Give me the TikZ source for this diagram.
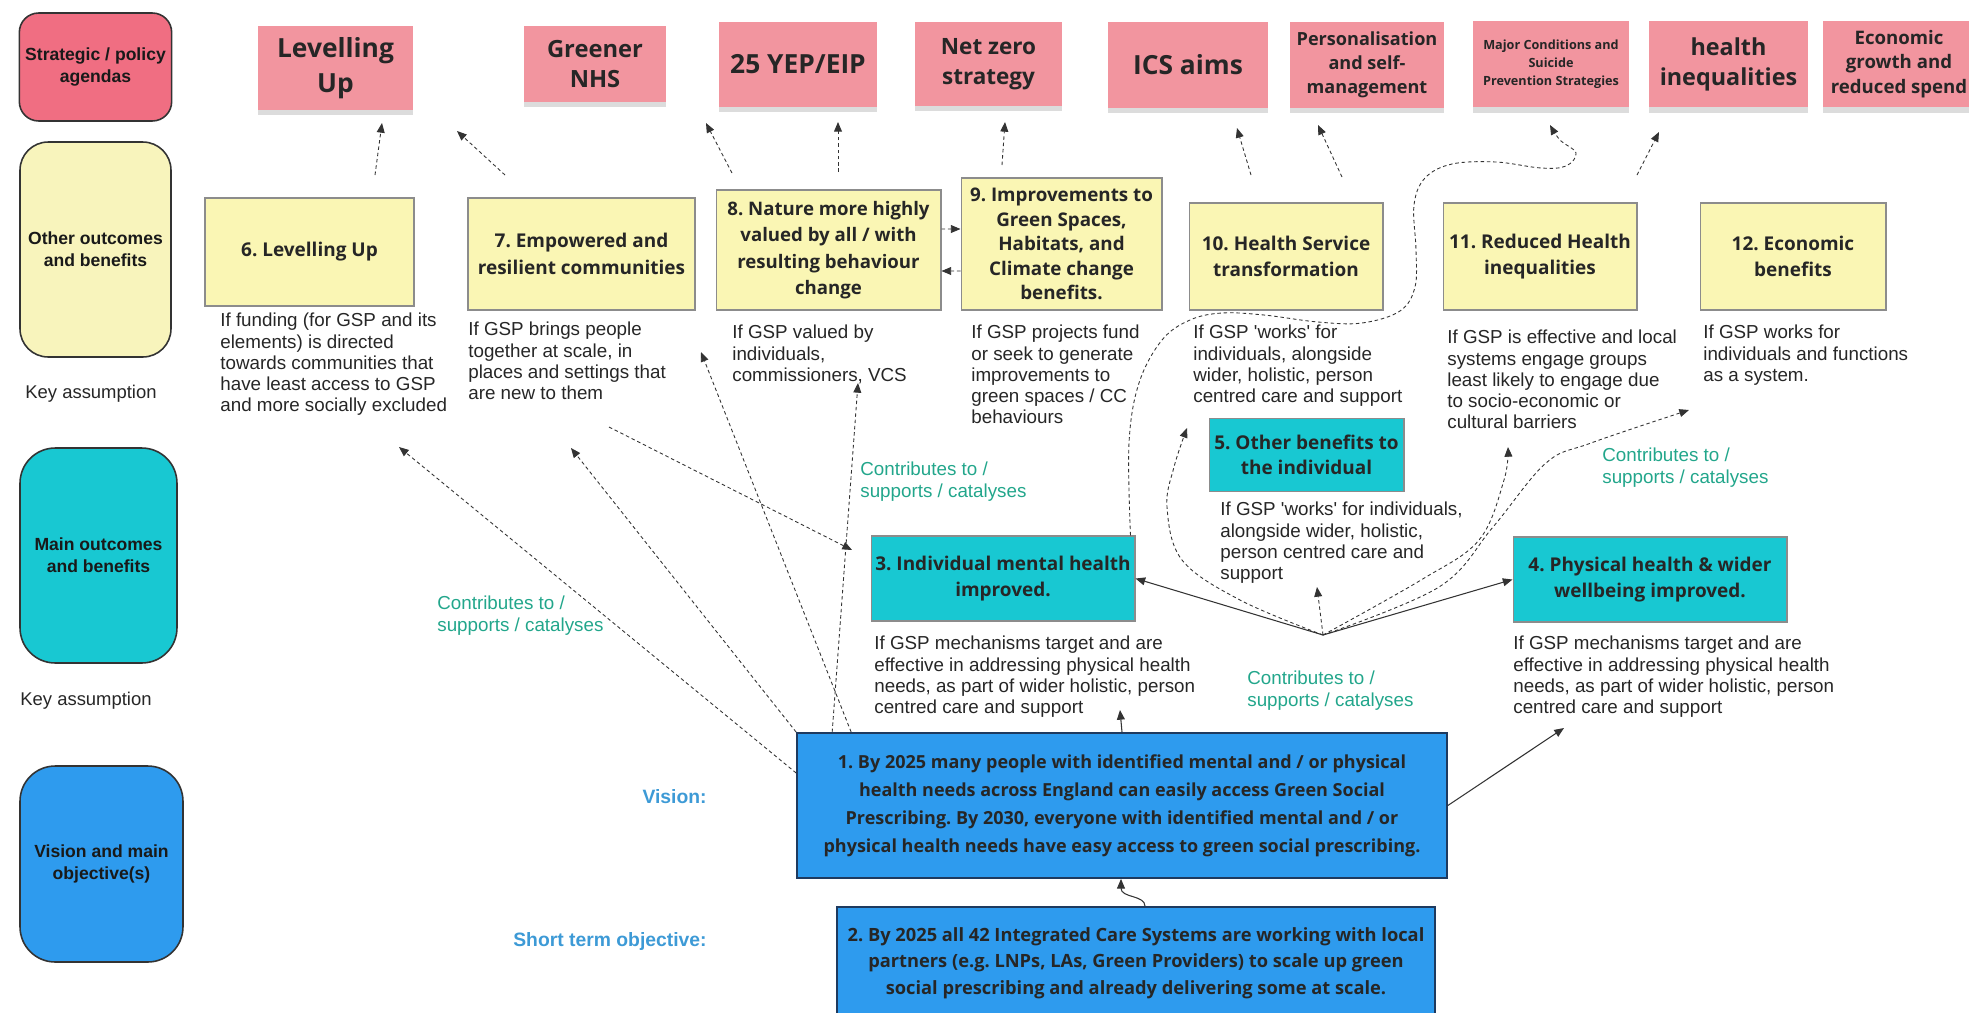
\documentclass[tikz,border=0pt]{standalone}
\usepackage{fontspec}
\setmainfont{Liberation Sans}
\newfontfamily\osans{Open Sans}
\usepackage{xcolor}
\usepackage{tikz}
\usetikzlibrary{arrows.meta, shadows}

\definecolor{policyred}{HTML}{F06E82}
\definecolor{stickypink}{HTML}{F2959F}
\definecolor{paleyellow}{HTML}{F8F4BC}
\definecolor{boxyellow}{HTML}{FAF6B4}
\definecolor{cyanbox}{HTML}{18C8D2}
\definecolor{bluebox}{HTML}{2E9BEE}
\definecolor{navyline}{HTML}{1E3A5F}
\definecolor{tealtext}{HTML}{22A68B}
\definecolor{visionblue}{HTML}{3D9AD6}

\newcommand\obf[2]{\osans\bfseries\fontsize{#1}{#2}\selectfont}
\frenchspacing

\begin{document}
\begin{tikzpicture}[x=0.02cm, y=-0.02cm,
  sidebox/.style={draw=black!80, line width=0.9pt, align=center, text=black!90,
    font=\bfseries\fontsize{10}{12.5}\selectfont},
  keylabel/.style={font=\fontsize{10.5}{12}\selectfont, text=black!85},
  sticky/.style={fill=stickypink, align=center, text=black!85, inner sep=1pt,
    drop shadow={shadow xshift=0pt, shadow yshift=-3pt, opacity=0.28}},
  outbox/.style={draw=black!45, line width=0.6pt, fill=boxyellow, align=center,
    text=black!85, font=\obf{10.8}{15}},
  mainbox/.style={draw=black!45, line width=0.6pt, fill=cyanbox, align=center,
    text=black!85, inner xsep=1pt, font=\obf{10.8}{14.5}},
  visbox/.style={draw=navyline, line width=1pt, fill=bluebox, align=center,
    text=black!85, font=\obf{10.25}{16}},
  assume/.style={anchor=north west, inner sep=0pt, align=left, text=black!85,
    font=\fontsize{10.7}{12}\selectfont},
  contrib/.style={anchor=north west, inner sep=0pt, align=left, text=tealtext,
    font=\fontsize{10.7}{12}\selectfont},
  dasharrow/.style={draw=black!80, line width=0.5pt, dash pattern=on 2pt off 1.6pt,
    -{Triangle[length=5.5pt,width=4.5pt]}},
  solidarrow/.style={draw=black!80, line width=0.6pt,
    -{Triangle[length=5.5pt,width=4.5pt]}}
]

    \useasboundingbox (0,0) rectangle (1969,1012);

    % Row headings on the left
    \node[sidebox, fill=policyred, minimum width=3.02cm, minimum height=2.16cm, rounded corners=11pt] (lpolicy) at (95.5,67) {Strategic / policy\\agendas};
    \node[sidebox, fill=paleyellow, minimum width=3.02cm, minimum height=4.3cm, rounded corners=16pt] (lother) at (95.5,249.5) {Other outcomes\\and benefits};
    \node[keylabel] (lkeyone) at (91,394) {Key assumption};
    \node[sidebox, fill=cyanbox, minimum width=3.14cm, minimum height=4.3cm, rounded corners=20pt] (lmain) at (98.5,555.5) {Main outcomes\\and benefits};
    \node[keylabel] (lkeytwo) at (86,701) {Key assumption};
    \node[sidebox, fill=bluebox, minimum width=3.26cm, minimum height=3.92cm, rounded corners=20pt] (lvision) at (101.5,864) {Vision and main\\objective(s)};

    % Strategic / policy agendas (sticky notes)
    \node[sticky, minimum width=3.1cm, minimum height=1.68cm, font=\obf{15}{20}] (sLevel) at (335.5,68) {Levelling\\Up};
    \node[sticky, minimum width=2.84cm, minimum height=1.52cm, font=\obf{13.5}{17}] (sGreen) at (595,64) {Greener\\NHS};
    \node[sticky, minimum width=3.16cm, minimum height=1.7cm, font=\obf{15}{18}] (sYep) at (798,64.5) {25 YEP/EIP};
    \node[sticky, minimum width=2.94cm, minimum height=1.68cm, font=\obf{12.8}{17}] (sNet) at (988.5,64) {Net zero\\strategy};
    \node[sticky, minimum width=3.2cm, minimum height=1.72cm, font=\obf{15}{18}] (sIcs) at (1188,65) {ICS aims};
    \node[sticky, minimum width=3.08cm, minimum height=1.72cm, font=\obf{10.3}{13.8}] (sPers) at (1367,65) {Personalisation\\and self-\\management};
    \node[sticky, minimum width=3.12cm, minimum height=1.74cm, font=\obf{7.2}{10.2}] (sMajor) at (1551,64) {Major Conditions and\\Suicide\\Prevention Strategies};
    \node[sticky, minimum width=3.18cm, minimum height=1.74cm, font=\obf{13.3}{17}] (sHealth) at (1728.5,64) {health\\inequalities};
    \node[sticky, minimum width=3.04cm, minimum height=1.74cm, font=\obf{10.6}{13.8}] (sEcon) at (1899,64) {Economic\\growth and\\reduced spend};

    % Other outcomes and benefits
    \node[outbox, minimum width=4.18cm, minimum height=2.16cm] (b6) at (309.5,252) {6. Levelling Up};
    \node[outbox, minimum width=4.54cm, minimum height=2.24cm] (b7) at (581.5,254) {7. Empowered and\\resilient communities};
    \node[outbox, minimum width=4.5cm, minimum height=2.4cm, font=\obf{10.6}{15}] (b8) at (828.5,250) {8. Nature more highly\\valued by all / with\\resulting behaviour\\change};
    \node[outbox, minimum width=4.02cm, minimum height=2.64cm, font=\obf{10.7}{14}] (b9) at (1061.5,244) {9. Improvements to\\Green Spaces,\\Habitats, and\\Climate change\\benefits.};
    \node[outbox, minimum width=3.88cm, minimum height=2.14cm] (b10) at (1286,256.5) {10. Health Service\\transformation};
    \node[outbox, minimum width=3.88cm, minimum height=2.14cm] (b11) at (1540,256.5) {11. Reduced Health\\inequalities};
    \node[outbox, minimum width=3.72cm, minimum height=2.14cm] (b12) at (1793,256.5) {12. Economic\\benefits};

    % Key assumptions under the other outcomes
    \node[assume] (k6) at (220,313) {If funding (for GSP and its\\elements) is directed\\towards communities that\\have least access to GSP\\and more socially excluded};
    \node[assume] (k7) at (468,322) {If GSP brings people\\together at scale, in\\places and settings that\\are new to them};
    \node[assume] (k8) at (732,325) {If GSP valued by\\individuals,\\commissioners, VCS};
    \node[assume] (k9) at (971,325) {If GSP projects fund\\or seek to generate\\improvements to\\green spaces / CC\\behaviours};
    \node[assume] (k10) at (1193,325) {If GSP \textquotesingle works\textquotesingle\ for\\individuals, alongside\\wider, holistic, person\\centred care and support};
    \node[assume] (k11) at (1447,330) {If GSP is effective and local\\systems engage groups\\least likely to engage due\\to socio-economic or\\cultural barriers};
    \node[assume] (k12) at (1703,325) {If GSP works for\\individuals and functions\\as a system.};

    % Main outcomes and benefits
    \node[mainbox, minimum width=5.28cm, minimum height=1.7cm] (b3) at (1003,578.5) {3. Individual mental health\\improved.};
    \node[mainbox, minimum width=3.9cm, minimum height=1.46cm] (b5) at (1306.5,455) {5. Other benefits to\\the individual};
    \node[mainbox, minimum width=5.48cm, minimum height=1.7cm] (b4) at (1650,579.5) {4. Physical health \& wider\\wellbeing improved.};
    \node[assume] (k3) at (874,636) {If GSP mechanisms target and are\\effective in addressing physical health\\needs, as part of wider holistic, person\\centred care and support};
    \node[assume] (k5) at (1220,502) {If GSP \textquotesingle works\textquotesingle\ for individuals,\\alongside wider, holistic,\\person centred care and\\support};
    \node[assume] (k4) at (1513,636) {If GSP mechanisms target and are\\effective in addressing physical health\\needs, as part of wider holistic, person\\centred care and support};

    % Vision and objectives
    \node[visbox, minimum width=13cm, minimum height=2.9cm] (b1) at (1122,805.5) {1. By 2025 many people with identified mental and / or physical\\health needs across England can easily access Green Social\\Prescribing. By 2030, everyone with identified mental and / or\\physical health needs have easy access to green social prescribing.};
    \node[visbox, minimum width=11.96cm, minimum height=2.24cm, font=\obf{10.4}{15.2}] (b2) at (1136,963) {2. By 2025 all 42 Integrated Care Systems are working with local\\partners (e.g. LNPs, LAs, Green Providers) to scale up green\\social prescribing and already delivering some at scale.};
    \node[anchor=east, inner sep=0pt, text=visionblue, font=\bfseries\fontsize{11}{13}\selectfont] (lvis) at (707,797) {Vision:};
    \node[anchor=east, inner sep=0pt, text=visionblue, font=\bfseries\fontsize{11}{13}\selectfont] (lshort) at (707,941) {Short term objective:};

    % Contributes to labels
    \node[contrib] (g1) at (860,462) {Contributes to /\\supports / catalyses};
    \node[contrib] (g2) at (437,596) {Contributes to /\\supports / catalyses};
    \node[contrib] (g3) at (1247,671) {Contributes to /\\supports / catalyses};
    \node[contrib] (g4) at (1602,448) {Contributes to /\\supports / catalyses};

    % Free ends of the connectors
    \coordinate (t1a) at (375,175); \coordinate (t1b) at (382,123);
    \coordinate (t2a) at (505,175); \coordinate (t2b) at (457,131);
    \coordinate (t3a) at (732,173); \coordinate (t3b) at (706,123);
    \coordinate (t4a) at (838,172); \coordinate (t4b) at (838,122);
    \coordinate (t5a) at (1002,165); \coordinate (t5b) at (1005,122);
    \coordinate (t6a) at (1251,175); \coordinate (t6b) at (1237,128);
    \coordinate (t7a) at (1342,177); \coordinate (t7b) at (1318,125);
    \coordinate (t8b) at (1550,125);
    \coordinate (t9a) at (1637,175); \coordinate (t9b) at (1659,132);
    \coordinate (v1b) at (399,447);
    \coordinate (v2b) at (571,448);
    \coordinate (v3b) at (701,352);
    \coordinate (v4b) at (858,383);
    \coordinate (v5a) at (609,427); \coordinate (v5b) at (852,550);
    \coordinate (m3) at (1120,710);
    \coordinate (m4) at (1564,728);
    \coordinate (hub) at (1323,635);
    \coordinate (h1) at (1317,587);
    \coordinate (h2) at (1187,428);
    \coordinate (h3) at (1508,447);
    \coordinate (h4) at (1689,410);

    % Dashed arrows up to the agendas
    \draw[dasharrow] (t1a) -- (t1b);
    \draw[dasharrow] (t2a) -- (t2b);
    \draw[dasharrow] (t3a) -- (t3b);
    \draw[dasharrow] (t4a) -- (t4b);
    \draw[dasharrow] (t5a) -- (t5b);
    \draw[dasharrow] (t6a) -- (t6b);
    \draw[dasharrow] (t7a) -- (t7b);
    \draw[dasharrow] (t9a) -- (t9b);

    % Between 8 and 9
    \draw[dasharrow] ([yshift=0.42cm]b8.east) -- ([yshift=0.3cm]b9.west);
    \draw[dasharrow] ([yshift=-0.54cm]b9.west) -- ([yshift=-0.42cm]b8.east);

    % Long wavy line from 3 to the Major Conditions note
    \draw[dasharrow] plot[smooth, tension=0.6] coordinates {([xshift=-0.1cm]b3.north east) (1129,443) (1139,383) (1162,340) (1190,320) (1222,313) (1264,315) (1318,322) (1362,323) (1400,311) (1415,287) (1416,250) (1414,205) (1425,178) (1452,164) (1496,162) (1541,168) (1566,166) (1576,153) (1560,140) (t8b)};

    % Dashed arrows from the vision
    \draw[dasharrow] ([yshift=0.65cm]b1.west) -- (v1b);
    \draw[dasharrow] (b1.north west) -- (v2b);
    \draw[dasharrow] ([xshift=1.1cm]b1.north west) -- (v3b);
    \draw[dasharrow] ([xshift=0.72cm]b1.north west) -- (v4b);
    \draw[dasharrow] (v5a) -- (v5b);

    % Solid arrows between vision and main outcomes
    \draw[solidarrow] (b1.north) -- (m3);
    \draw[solidarrow] (b1.east) -- (m4);
    \draw[solidarrow] ([xshift=0.18cm]b2.north) .. controls (1145,895) and (1121,898) .. ([xshift=-0.02cm]b1.south);

    % Arrows from the hub between 3 and 4
    \draw[solidarrow] (hub) -- (b3.east);
    \draw[solidarrow] (hub) -- (b4.west);
    \draw[dasharrow] (hub) -- (h1);
    \draw[dasharrow] plot[smooth, tension=0.6] coordinates {(hub) (1240,600) (1182,560) (1167,507) (1174,467) (h2)};
    \draw[dasharrow] plot[smooth, tension=0.6] coordinates {(hub) (1421,580) (1479,540) (1504,480) (h3)};
    \draw[dasharrow] plot[smooth, tension=0.6] coordinates {(hub) (1439,587) (1493,527) (1546,463) (1591,443) (h4)};

\end{tikzpicture}
\end{document}
